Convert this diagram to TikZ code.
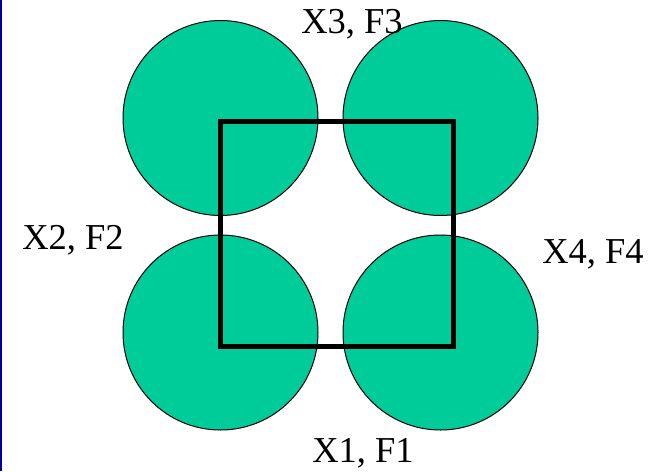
\documentclass[tikz,border=0pt]{standalone}
\usepackage{fontspec}
\setmainfont{Liberation Serif}
\usepackage{xcolor}
\definecolor{discgreen}{RGB}{0,204,153}
\definecolor{edgeblue}{RGB}{0,0,160}
\usetikzlibrary{positioning}

\tikzset{
  disc/.style={circle,draw=black,line width=1pt,fill=discgreen,minimum size=195pt,inner sep=0pt},
  lbl/.style={anchor=base,inner sep=0pt,font=\fontsize{36.5}{42}\selectfont}
}

\begin{document}
\begin{tikzpicture}[x=1pt,y=-1pt]
  \useasboundingbox (0,0) rectangle (663,471);
  \fill[edgeblue] (0,0) rectangle (1.5,471);
  % the four discs
  \node[disc] (d3l) at (220.5,118) {};
  \node[disc] (d3r) at (440.5,118) {};
  \node[disc] (d1l) at (220.5,332.5) {};
  \node[disc] (d1r) at (440.5,332.5) {};
  % the square
  \draw[line width=5pt] (220,121) rectangle (453,346);
  % labels
  \node[lbl] (x3) at (352,33) {X3, F3};
  \node[lbl] (x2) at (73,249) {X2, F2};
  \node[lbl] (x4) at (593,263) {X4, F4};
  \node[lbl] (x1) at (363,462) {X1, F1};
\end{tikzpicture}
\end{document}
